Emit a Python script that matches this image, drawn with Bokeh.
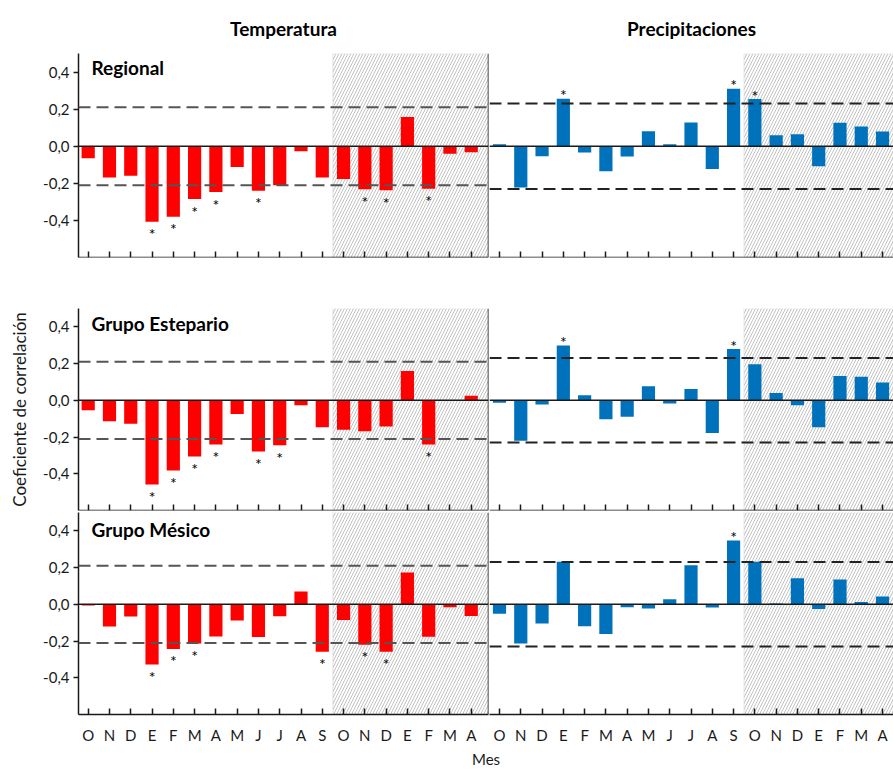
from bokeh.plotting import figure
from bokeh.models import (Span, BoxAnnotation, Label, LinearAxis, FixedTicker,
                          CustomJSTickFormatter, ColumnDataSource)
from bokeh.layouts import column, row
from bokeh.embed import file_html
from bokeh.resources import INLINE
from bokeh.core.properties import value

# ---------------------------------------------------------------- data
months = ["O", "N", "D", "E", "F", "M", "A", "M", "J", "J", "A", "S",
          "O", "N", "D", "E", "F", "M", "A"]
growth_start = 12          # first month of the growth year (shaded period)

temp_threshold = 0.21
precip_threshold = 0.23

groups = ["Regional", "Grupo Estepario", "Grupo Mésico"]

temp_regional = [-0.065, -0.169, -0.159, -0.407, -0.380, -0.285, -0.247, -0.112,
                 -0.240, -0.211, -0.027, -0.168, -0.177, -0.232, -0.238, 0.157,
                 -0.229, -0.041, -0.032]
temp_regional_sig = [0, 0, 0, 1, 1, 1, 1, 0, 1, 0, 0, 0, 0, 1, 1, 0, 1, 0, 0]

precip_regional = [0.011, -0.223, -0.054, 0.256, -0.034, -0.135, -0.056, 0.081,
                   0.011, 0.128, -0.123, 0.310, 0.254, 0.059, 0.065, -0.108,
                   0.126, 0.106, 0.079]
precip_regional_sig = [0, 0, 0, 1, 0, 0, 0, 0, 0, 0, 0, 1, 1, 0, 0, 0, 0, 0, 0]

temp_estepario = [-0.054, -0.114, -0.128, -0.459, -0.382, -0.306, -0.240, -0.074,
                  -0.279, -0.245, -0.027, -0.146, -0.160, -0.169, -0.142, 0.159,
                  -0.240, -0.003, 0.025]
temp_estepario_sig = [0, 0, 0, 1, 1, 1, 1, 0, 1, 1, 0, 0, 0, 0, 0, 0, 1, 0, 0]

precip_estepario = [-0.013, -0.220, -0.023, 0.299, 0.027, -0.103, -0.090, 0.076,
                    -0.018, 0.061, -0.178, 0.279, 0.196, 0.040, -0.027, -0.146,
                    0.132, 0.128, 0.097]
precip_estepario_sig = [0, 0, 0, 1, 0, 0, 0, 0, 0, 0, 0, 1, 0, 0, 0, 0, 0, 0, 0]

temp_mesico = [-0.007, -0.121, -0.067, -0.328, -0.243, -0.213, -0.175, -0.088,
               -0.178, -0.065, 0.070, -0.258, -0.086, -0.220, -0.258, 0.173,
               -0.177, -0.016, -0.063]
temp_mesico_sig = [0, 0, 0, 1, 1, 1, 0, 0, 0, 0, 0, 1, 0, 1, 1, 0, 0, 0, 0]

precip_mesico = [-0.052, -0.213, -0.105, 0.232, -0.119, -0.162, -0.016, -0.023,
                 0.027, 0.213, -0.018, 0.348, 0.232, 0.005, 0.142, -0.025,
                 0.135, 0.013, 0.043]
precip_mesico_sig = [0, 0, 0, 0, 0, 0, 0, 0, 0, 0, 0, 1, 0, 0, 0, 0, 0, 0, 0]

y_ticks = [-0.4, -0.2, 0.0, 0.2, 0.4]

# ---------------------------------------------------------------- styling
FONT = "Lato"
RED = "#ff0000"
BLUE = "#0072bc"
Y_START, Y_END = -0.6, 0.5
STEP = 21.28                       # pixels per month
LEFT_BORDER, LEFT_FRAME, RIGHT_FRAME = 78, 410, 404
LEFT_X = (-9.7 / STEP, -9.7 / STEP + LEFT_FRAME / STEP)
RIGHT_X = (-10.0 / STEP, -10.0 / STEP + RIGHT_FRAME / STEP)
# (border top, frame height, border bottom) of each row
ROWS = [(53, 204, 3), (48, 202, 2), (0, 202, 34)]
LABEL_DROP = [14, 15, 17]          # baseline of the group name below frame top

n = len(months)
idx = list(range(n))


def make_panel(vals, sig, color, thr, dash_color, left, r, title=None):
    top_b, frame_h, bot_b = ROWS[r]
    last = r == len(ROWS) - 1
    p = figure(
        width=(LEFT_BORDER + LEFT_FRAME + 1) if left else RIGHT_FRAME,
        height=top_b + frame_h + bot_b,
        x_range=LEFT_X if left else RIGHT_X,
        y_range=(Y_START, Y_END),
        x_axis_location="below" if last else None,
        y_axis_location="left" if left else None,
        min_border_left=LEFT_BORDER if left else 0,
        min_border_right=1 if left else 0,
        min_border_top=top_b, min_border_bottom=bot_b,
        output_backend="svg", toolbar_location=None, title=title,
    )
    p.outline_line_color = None
    p.grid.visible = False
    p.background_fill_color = "white"
    p.border_fill_color = "white"

    if title is not None:
        p.title.align = "center"
        p.title.text_font = FONT
        p.title.text_font_size = "19px"
        p.title.text_font_style = "bold"
        p.title.text_color = "black"
        p.title.standoff = 28

    # shaded growth-year period
    p.add_layout(BoxAnnotation(
        left=growth_start - 0.5, fill_alpha=0,
        hatch_pattern="/", hatch_color="#c2c2c2", hatch_scale=6, hatch_weight=1,
        line_color="#cccccc", line_width=2, level="underlay"))

    src = ColumnDataSource(dict(x=idx, v=vals))
    p.vbar(x="x", top="v", bottom=0, width=0.62, source=src,
           fill_color=color, line_color=None)

    p.add_layout(Span(location=0, dimension="width",
                      line_color="#1a1a1a", line_width=1.5))
    for s in (thr, -thr):
        p.add_layout(Span(location=s, dimension="width", line_color=dash_color,
                          line_width=2, line_dash="12 6"))

    # significance marks
    neg = [i for i in idx if sig[i] and vals[i] < 0]
    pos = [i for i in idx if sig[i] and vals[i] >= 0]
    star_kw = dict(text_align="center", text_baseline="alphabetic",
                   text_font=value(FONT), text_font_size="16px",
                   text_color="black")
    if neg:
        p.text(x=neg, y=[vals[i] for i in neg], text=["*"] * len(neg),
               y_offset=12, **star_kw)
    if pos:
        p.text(x=pos, y=[vals[i] for i in pos], text=["*"] * len(pos),
               y_offset=-4, **star_kw)

    # x axis
    if last:
        xa = p.xaxis[0]
        xa.major_label_overrides = {i: m for i, m in enumerate(months)}
        xa.major_label_standoff = 11
        xa.major_label_text_font = FONT
        xa.major_label_text_font_size = "15px"
        xa.major_label_text_color = "#1a1a1a"
    else:
        xa = LinearAxis(fixed_location=Y_START,
                        formatter=CustomJSTickFormatter(code="return '';"))
        p.add_layout(xa, "below")
    xa.ticker = FixedTicker(ticks=idx)
    xa.major_tick_in = 6
    xa.major_tick_out = 0
    xa.minor_tick_in = 0
    xa.minor_tick_out = 0
    xa.axis_line_color = "#1a1a1a"
    xa.axis_line_width = 1.5
    xa.major_tick_line_color = "#1a1a1a"
    xa.major_tick_line_width = 1.5

    if left:
        ya = p.yaxis[0]
        ya.ticker = FixedTicker(ticks=y_ticks)
        ya.formatter = CustomJSTickFormatter(
            code="return tick.toFixed(1).replace('.', ',');")
        ya.major_tick_out = 5
        ya.major_tick_in = 0
        ya.minor_tick_in = 0
        ya.minor_tick_out = 0
        ya.major_label_standoff = 4
        ya.major_label_text_font = FONT
        ya.major_label_text_font_size = "15px"
        ya.major_label_text_color = "#1a1a1a"
        ya.axis_line_color = "#1a1a1a"
        ya.axis_line_width = 1.5
        ya.major_tick_line_color = "#1a1a1a"
        ya.major_tick_line_width = 1.5
        if r == 1:
            ya.axis_label = "Coeficiente de correlación"
            ya.axis_label_text_font = FONT
            ya.axis_label_text_font_size = "17px"
            ya.axis_label_text_font_style = "normal"
            ya.axis_label_text_color = "#1a1a1a"
            ya.axis_label_standoff = 10
        # vertical axis line of the precipitation panel
        ra = LinearAxis(fixed_location=LEFT_X[1], ticker=FixedTicker(ticks=[]),
                        major_tick_in=0, major_tick_out=0,
                        minor_tick_in=0, minor_tick_out=0,
                        axis_line_color="#1a1a1a", axis_line_width=1.5)
        p.add_layout(ra, "right")
        p.add_layout(Label(x=13, y=frame_h - LABEL_DROP[r],
                           x_units="screen", y_units="screen", text=groups[r],
                           text_font=FONT, text_font_size="19px",
                           text_font_style="bold", text_color="black",
                           text_baseline="alphabetic"))
    return p


temp_series = [(temp_regional, temp_regional_sig),
               (temp_estepario, temp_estepario_sig),
               (temp_mesico, temp_mesico_sig)]
precip_series = [(precip_regional, precip_regional_sig),
                 (precip_estepario, precip_estepario_sig),
                 (precip_mesico, precip_mesico_sig)]

rows = []
for r in range(3):
    tv, ts = temp_series[r]
    pv, ps = precip_series[r]
    lp = make_panel(tv, ts, RED, temp_threshold, "#555555", True, r,
                    title="Temperatura" if r == 0 else None)
    rp = make_panel(pv, ps, BLUE, precip_threshold, "#222222", False, r,
                    title="Precipitaciones" if r == 0 else None)
    rows.append(row(lp, rp))

# shared x-axis title
strip = figure(width=LEFT_BORDER + LEFT_FRAME + 1 + RIGHT_FRAME, height=21,
               x_range=(0, 1), y_range=(0, 1),
               min_border_left=LEFT_BORDER, min_border_right=0,
               min_border_top=0, min_border_bottom=0,
               x_axis_location=None, y_axis_location=None,
               output_backend="svg", toolbar_location=None)
strip.outline_line_color = None
strip.grid.visible = False
strip.text(x=[0.5], y=[0.5], text=["Mes"], text_align="center",
           text_baseline="middle", text_font=value(FONT),
           text_font_size="15px", text_color="#1a1a1a")

layout = column(*rows, strip)

open("out.html", "w").write(file_html(layout, INLINE))
